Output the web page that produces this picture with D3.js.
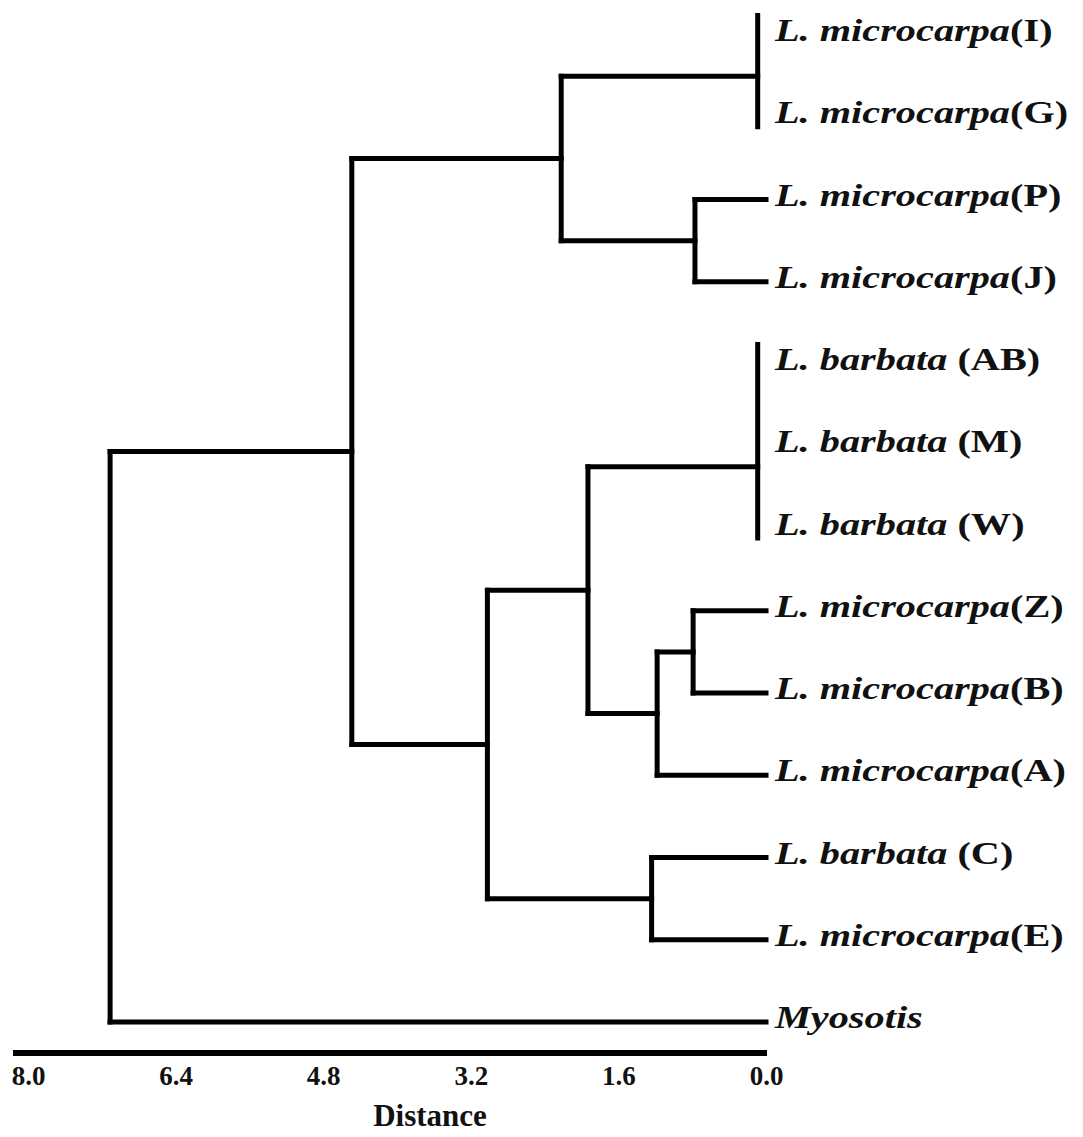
<!DOCTYPE html>
<html>
<head>
<meta charset="utf-8">
<script src="https://cdn.jsdelivr.net/npm/d3@7"></script>
<style>
  body { margin: 0; background: #fff; }
  text { font-family: 'Liberation Serif', 'Times New Roman', serif; font-weight: bold; fill: #111; }
</style>
</head>
<body>
<svg id="chart" width="1083" height="1137"></svg>
<script>
// Leaves, top to bottom
const leafIds = ['I', 'G', 'P', 'J', 'AB', 'M', 'W', 'Z', 'B', 'A', 'C', 'E', 'Myo'];
const leafSpecies = ['L. microcarpa', 'L. microcarpa', 'L. microcarpa', 'L. microcarpa',
  'L. barbata', 'L. barbata', 'L. barbata', 'L. microcarpa', 'L. microcarpa',
  'L. microcarpa', 'L. barbata', 'L. microcarpa', 'Myosotis'];
const leafCodes = ['(I)', '(G)', '(P)', '(J)', '(AB)', '(M)', '(W)', '(Z)', '(B)', '(A)', '(C)', '(E)', ''];

// Internal nodes: id, distance (height), children
const nodeIds = ['root', 'lam', 'top', 'IG', 'PJ', 'bot', 'mix', 'AMW', 'AM', 'ZBA', 'ZB', 'CE'];
const nodeHeights = [7.11, 4.49, 2.22, 0.09, 0.77, 3.02, 1.93, 0.09, 0.09, 1.18, 0.79, 1.24];
const nodeChildren = [['lam', 'Myo'], ['top', 'bot'], ['IG', 'PJ'], ['I', 'G'], ['P', 'J'],
  ['mix', 'CE'], ['AMW', 'ZBA'], ['AM', 'W'], ['AB', 'M'], ['ZB', 'A'], ['Z', 'B'], ['C', 'E']];

const axisTicks = [8.0, 6.4, 4.8, 3.2, 1.6, 0.0];
const axisTitle = 'Distance';

const zeroTol = 0.1; // clusters below this are drawn as a single bar
const svg = d3.select('#chart');

// build hierarchy
function buildNode(id) {
  const i = nodeIds.indexOf(id);
  if (i < 0) return { id, height: 0 };
  return { id, height: nodeHeights[i], children: nodeChildren[i].map(buildNode) };
}
const root = d3.hierarchy(buildNode('root'));

const x = d3.scaleLinear().domain([8, 0]).range([28, 766]);
const y = d3.scalePoint().domain(leafIds).range([35, 1022]);

root.eachAfter((d) => {
  d.px = x(d.data.height);
  if (!d.children) d.py = y(d.data.id);
  else d.py = d3.mean(d.children, c => c.py);
});

const tree = svg.append('g')
  .attr('fill', 'none')
  .attr('stroke', '#000')
  .attr('stroke-width', 5)
  .attr('stroke-linecap', 'square');

const isZero = d => d.children && d.data.height < zeroTol;

root.each((d) => {
  if (d.parent) {
    // horizontal branch from parent to this node
    if (!(isZero(d.parent) && !d.children) && !(isZero(d.parent) && isZero(d))) {
      tree.append('line').attr('x1', d.parent.px).attr('x2', d.px)
        .attr('y1', d.py).attr('y2', d.py);
    }
  }
  if (isZero(d) && !(d.parent && isZero(d.parent))) {
    // zero-distance cluster: one bar spanning its labels
    const ys = d.leaves().map(l => l.py);
    tree.append('line').attr('x1', d.px).attr('x2', d.px)
      .attr('y1', d3.min(ys) - 22).attr('y2', d3.max(ys) + 12)
      .attr('stroke-linecap', 'butt');
  } else if (d.children && !isZero(d)) {
    const ys = d.children.map(c => c.py);
    tree.append('line').attr('x1', d.px).attr('x2', d.px)
      .attr('y1', d3.min(ys)).attr('y2', d3.max(ys));
  }
});

// leaf labels
const labels = svg.append('g').selectAll('text')
  .data(root.leaves())
  .join('text')
  .attr('transform', d => `translate(${x(0) + 9},${d.py + 6}) scale(1.26,1)`)
  .attr('font-size', 32);
labels.append('tspan').attr('font-style', 'italic')
  .text(d => leafSpecies[leafIds.indexOf(d.data.id)]);
labels.append('tspan')
  .text((d) => {
    const i = leafIds.indexOf(d.data.id);
    if (!leafCodes[i]) return '';
    return (leafSpecies[i] === 'L. barbata' ? ' ' : '') + leafCodes[i];
  });

// distance axis
const axisY = 1053;
svg.append('line')
  .attr('x1', x(8) - 15).attr('x2', x(0) + 1)
  .attr('y1', axisY).attr('y2', axisY)
  .attr('stroke', '#000').attr('stroke-width', 6);
const axis = svg.append('g')
  .attr('transform', `translate(0,${axisY})`)
  .call(d3.axisBottom(x).tickValues(axisTicks).tickFormat(d3.format('.1f'))
    .tickSize(0).tickPadding(13));
axis.select('.domain').remove();
axis.selectAll('text')
  .attr('font-family', "'Liberation Serif', 'Times New Roman', serif")
  .attr('font-weight', 'bold')
  .attr('font-size', 27)
  .attr('fill', '#111');

svg.append('text')
  .attr('x', 430).attr('y', 1126)
  .attr('text-anchor', 'middle')
  .attr('font-size', 31)
  .text(axisTitle);
</script>
</body>
</html>
